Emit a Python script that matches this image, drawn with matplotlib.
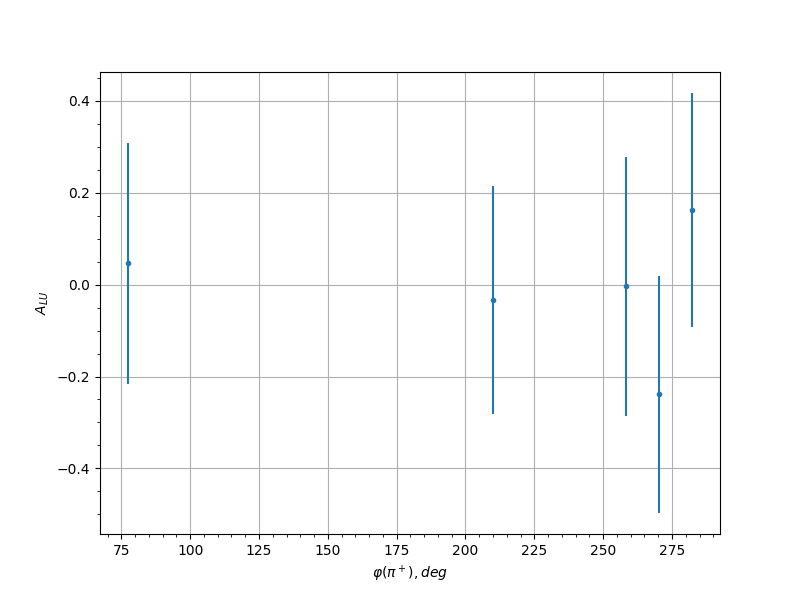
import numpy as np
import matplotlib
matplotlib.use("Agg")
import matplotlib.pyplot as plt
from matplotlib.ticker import MultipleLocator, AutoMinorLocator

# phi(pi+) bins in deg, asymmetry and its error
phi = [77.5, 210.1, 258.3, 270.3, 282.2]
alu = [0.046, -0.033, -0.004, -0.239, 0.162]
alu_err = [0.262, 0.248, 0.282, 0.258, 0.255]

fig, ax = plt.subplots(figsize=(8, 6), dpi=100)
ax.errorbar(phi, alu, yerr=alu_err, fmt='.')
ax.set_xlabel(r"$\varphi(\pi^+), deg$")
ax.set_ylabel(r"$A_{LU}$")
ax.xaxis.set_major_locator(MultipleLocator(25))
ax.xaxis.set_minor_locator(AutoMinorLocator(5))
ax.yaxis.set_minor_locator(AutoMinorLocator())
ax.grid(which='major')

plt.savefig("out.png")
